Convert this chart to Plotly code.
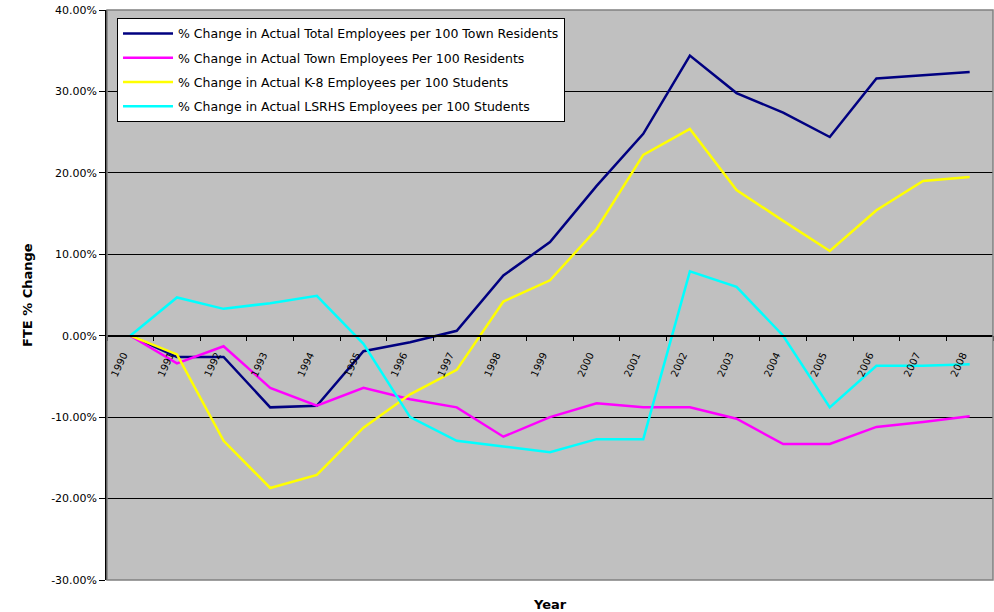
import plotly.graph_objects as go

years = [str(y) for y in range(1990, 2009)]

total_emp = [0.0, -2.6, -2.6, -8.8, -8.6, -1.9, -0.8, 0.6, 7.4, 11.5, 18.4, 24.8,
             34.4, 29.8, 27.4, 24.4, 31.6, 32.0, 32.4]
town_emp = [0.0, -3.4, -1.3, -6.4, -8.6, -6.4, -7.8, -8.8, -12.4, -10.0, -8.3, -8.8,
            -8.8, -10.2, -13.3, -13.3, -11.2, -10.6, -9.9]
k8_emp = [0.0, -2.3, -12.9, -18.7, -17.1, -11.3, -7.2, -4.2, 4.2, 6.8, 13.1, 22.2,
          25.4, 17.9, 14.1, 10.4, 15.4, 19.0, 19.5]
lsrhs_emp = [0.0, 4.7, 3.3, 4.0, 4.9, -1.0, -10.0, -12.9, -13.6, -14.3, -12.7, -12.7,
             7.9, 6.0, 0.0, -8.8, -3.7, -3.7, -3.5]

series_names = [
    "% Change in Actual Total Employees per 100 Town Residents",
    "% Change in Actual Town Employees Per 100 Residents",
    "% Change in Actual K-8 Employees per 100 Students",
    "% Change in Actual LSRHS Employees per 100 Students",
]
series_values = [total_emp, town_emp, k8_emp, lsrhs_emp]
colors = ["#000080", "#FF00FF", "#FFFF00", "#00FFFF"]

y_ticks = [40, 30, 20, 10, 0, -10, -20, -30]
y_tick_labels = ["40.00%", "30.00%", "20.00%", "10.00%", "0.00%", "-10.00%", "-20.00%", "-30.00%"]

fig = go.Figure()
for i, (name, vals, col) in enumerate(zip(series_names, series_values, colors)):
    fig.add_trace(go.Scatter(
        x=years, y=vals, mode="lines", name=name,
        line=dict(color=col, width=2.5),
        legendgroup=f"g{i}",
    ))

font_family = "DejaVu Sans, Verdana, sans-serif"

fig.update_layout(
    width=994, height=612,
    margin=dict(l=107, r=1, t=10, b=32),
    paper_bgcolor="white",
    plot_bgcolor="#C0C0C0",
    font=dict(family=font_family, color="black", size=11),
    showlegend=True,
    legend=dict(
        x=0.0113, y=0.986, xanchor="left", yanchor="top",
        bgcolor="white", bordercolor="black", borderwidth=1,
        font=dict(size=12.5, family=font_family, color="black"),
        tracegroupgap=5,
        traceorder="grouped",
        itemwidth=50,
    ),
    xaxis=dict(
        type="category",
        range=[-0.5, len(years) - 0.5],
        anchor="free",
        position=30 / 70,
        showgrid=False,
        showline=True, linecolor="black", linewidth=1.5,
        ticks="outside", ticklen=5, tickcolor="black",
        tickson="boundaries",
        tickangle=-65,
        tickfont=dict(size=10, family=font_family),
        ticklabelstandoff=9,
        ticklabelshift=-7,
        zeroline=False,
        automargin=False,
    ),
    yaxis=dict(
        range=[-30, 40],
        tickvals=y_ticks,
        ticktext=y_tick_labels,
        showgrid=True, gridcolor="black", gridwidth=1,
        showline=True, linecolor="black", linewidth=1.5,
        ticks="outside", ticklen=6, tickcolor="black",
        tickfont=dict(size=11, family=font_family),
        ticklabeloverflow="allow",
        zeroline=False,
        automargin=False,
    ),
)

fig.add_shape(type="rect", xref="paper", yref="paper", x0=0, y0=0, x1=1, y1=1,
              line=dict(color="#808080", width=1.5), fillcolor="rgba(0,0,0,0)", layer="above")

fig.add_annotation(text="<b>Year</b>", xref="paper", yref="paper", x=0.5, y=0,
                   yshift=-24, showarrow=False, font=dict(size=13, family=font_family),
                   yanchor="middle")
fig.add_annotation(text="<b>FTE % Change</b>", xref="paper", yref="paper", x=0, y=0.5,
                   xshift=-80, showarrow=False, textangle=-90,
                   font=dict(size=13, family=font_family), xanchor="center")

fig.write_html("out.html", config={"displayModeBar": False},
               post_script="document.body.style.margin='0px';document.body.style.overflow='hidden';")
